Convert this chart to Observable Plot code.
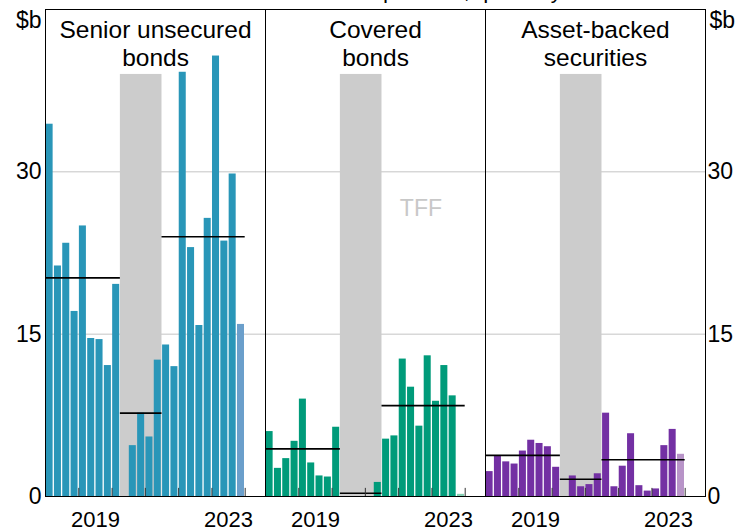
<!DOCTYPE html>
<html>
<head>
<meta charset="utf-8">
<script src="https://cdn.jsdelivr.net/npm/d3@7"></script>
<script src="https://cdn.jsdelivr.net/npm/@observablehq/plot@0.6"></script>
<style>
  body { margin: 0; background: #fff; }
  #chart svg { overflow: visible; display: block; }
</style>
</head>
<body>
<div id="chart"></div>
<script>
// ---- data (A$ billion, quarterly, 2018Q1 .. 2023Q4) ----
const quarters = [
  "2018Q1","2018Q2","2018Q3","2018Q4","2019Q1","2019Q2","2019Q3","2019Q4",
  "2020Q1","2020Q2","2020Q3","2020Q4","2021Q1","2021Q2","2021Q3","2021Q4",
  "2022Q1","2022Q2","2022Q3","2022Q4","2023Q1","2023Q2","2023Q3","2023Q4"
];
const panels = ["Senior unsecured\nbonds", "Covered\nbonds", "Asset-backed\nsecurities"];
const senior  = [34.4, 21.3, 23.4, 17.1, 25.0, 14.6, 14.5, 12.1, 19.6, null, 4.7, 7.7, 5.5, 12.6, 14.0, 12.0, 39.2, 23.0, 15.8, 25.7, 40.7, 23.6, 29.8, 15.9];
const covered = [6.0, 2.6, 3.5, 5.1, 9.0, 3.1, 1.9, 1.8, 6.4, null, 0, 0, 0, 1.3, 5.3, 5.6, 12.7, 10.1, 6.5, 13.0, 8.8, 12.1, 9.3, 0.2];
const abs     = [2.3, 3.7, 3.2, 3.0, 4.2, 5.2, 4.9, 4.6, 2.7, null, 1.9, 0.9, 1.1, 2.1, 7.7, 0.9, 2.8, 5.8, 1.0, 0.5, 0.7, 4.7, 6.2, 3.9];
// period averages: pre-TFF, TFF, post-TFF
const periodNames = ["Pre-TFF", "TFF", "Post-TFF"];
const periodStart = [2018, 2020.25, 2021.5];
const periodEnd   = [2020.25, 2021.5, 2024];
const seniorAvg  = [20.2, 7.7, 24.0];
const coveredAvg = [4.4, 0.3, 8.4];
const absAvg     = [3.8, 1.6, 3.4];
const tffBand = {start: 2020.25, end: 2021.5, top: 39};
const yTicks = [0, 15, 30];
const yearTicks = [2019, 2020, 2021, 2022, 2023, 2024];
const yearLabels = [2019, 2023];

// ---- styles ----
const fillMain  = ["#2996b8", "#009b7a", "#7330a3"];
const fillLatest = ["#6b9fcb", "#86d0b4", "#b894c8"];
const font = "'Liberation Sans', Arial, Helvetica, sans-serif";

// ---- derived tables ----
const series = [senior, covered, abs];
const avgs = [seniorAvg, coveredAvg, absAvg];
const bars = [];
series.forEach((vals, p) => vals.forEach((v, i) => {
  const yr = +quarters[i].slice(0, 4), q = +quarters[i].slice(5);
  bars.push({panel: panels[p], x1: yr + (q - 1) / 4, x2: yr + q / 4, value: v,
             color: i === vals.length - 1 ? fillLatest[p] : fillMain[p]});
}));
const avgRows = [];
avgs.forEach((a, p) => a.forEach((v, k) => avgRows.push({panel: panels[p], period: periodNames[k], x1: periodStart[k], x2: periodEnd[k], value: v})));

const chart = Plot.plot({
  width: 739,
  height: 532,
  marginLeft: 44,
  marginRight: 34,
  marginTop: 9,
  marginBottom: 36,
  style: {fontFamily: font, fontSize: "23px", color: "#000", background: "#fff", overflow: "visible"},
  fx: {domain: panels, padding: 0, axis: null, label: null},
  x: {domain: [2018, 2024.61], axis: null},
  y: {domain: [0, 45], axis: null},
  color: {type: "identity"},
  marks: [
    Plot.gridY(yTicks.filter(d => d > 0), {stroke: "#c4c4c4", strokeOpacity: 1, strokeWidth: 1}),
    Plot.rect([tffBand], {x1: "start", x2: "end", y1: 0, y2: "top", fill: "#cccccc"}),
    Plot.rectY(bars, {fx: "panel", x1: "x1", x2: "x2", y: "value", fill: "color", insetLeft: 0.6, insetRight: 0.7}),
    Plot.ruleY(avgRows, {fx: "panel", x1: "x1", x2: "x2", y: "value", stroke: "#000", strokeWidth: 1.6}),
    Plot.ruleX(yearTicks, {x: d => d, y1: 0, y2: 0.75, stroke: "#333", strokeWidth: 1}),
    Plot.frame({stroke: "#000", strokeWidth: 1}),
    Plot.axisY(yTicks, {anchor: "left", tickSize: 0, tickPadding: 4}),
    Plot.axisY(yTicks, {anchor: "right", tickSize: 0, tickPadding: 2}),
    Plot.axisX(yearLabels.map(d => d + 0.5), {anchor: "bottom", tickSize: 0, tickPadding: 15, fontSize: 22, tickFormat: d => String(Math.floor(d))}),
    Plot.text(panels, {fx: d => d, text: d => d, frameAnchor: "top", lineAnchor: "top", lineHeight: 1.18, dy: 7.5, fontSize: 24.5}),
    Plot.text(["TFF"], {fx: () => panels[1], x: 2022.67, y: 26.6, text: d => d, fill: "#c8c8c8", fontSize: 23}),
    Plot.text(["$b"], {fx: () => panels[0], text: d => d, frameAnchor: "top-left", textAnchor: "end", lineAnchor: "bottom", dx: -4, dy: 18, fontSize: 23}),
    Plot.text(["$b"], {fx: () => panels[2], text: d => d, frameAnchor: "top-right", textAnchor: "start", lineAnchor: "bottom", dx: 4, dy: 18, fontSize: 23}),
    Plot.text(["A$ equivalent, quarterly"], {fx: () => panels[0], text: d => d, frameAnchor: "top-left", textAnchor: "start", lineAnchor: "bottom", dx: 285, dy: -12, fontSize: 22})
  ]
});
document.getElementById("chart").append(chart);
</script>
</body>
</html>
